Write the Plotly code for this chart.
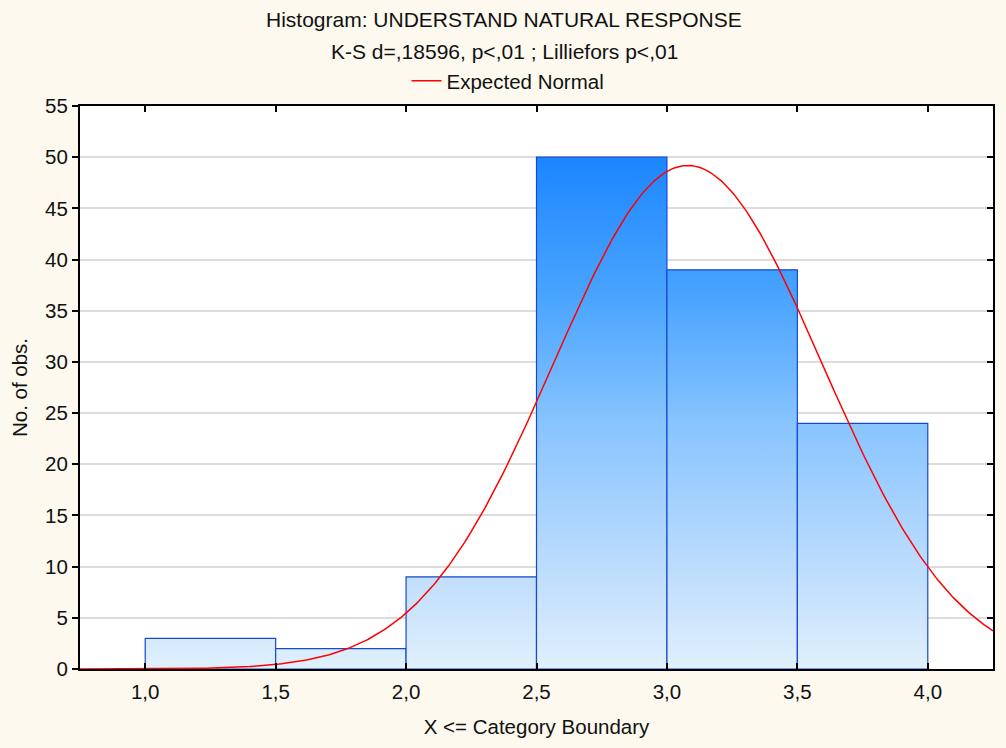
import numpy as np
import plotly.graph_objects as go

# Histogram bins (category boundaries) and observed counts
bin_lower = [1.0, 1.5, 2.0, 2.5, 3.0, 3.5]
bin_upper = [1.5, 2.0, 2.5, 3.0, 3.5, 4.0]
counts = [3, 2, 9, 50, 39, 24]

# Parameters of the expected normal curve
normal_mean = 3.08
normal_sd = 0.515
bin_width = 0.5

x_ticks = [1.0, 1.5, 2.0, 2.5, 3.0, 3.5, 4.0]
y_ticks = list(range(0, 56, 5))
x_range = [0.75, 4.25]
y_range = [0, 55]

title_line1 = "Histogram: UNDERSTAND NATURAL RESPONSE"
title_line2 = "K-S d=,18596, p<,01 ; Lilliefors p<,01"

FONT = "Liberation Sans, Arial, sans-serif"
BG = "#FDF9EF"
W, H = 1006, 748
ML, MR, MT, MB = 80, 13, 106, 79
PW, PH = W - ML - MR, H - MT - MB


def paper_x(px):
    return (px - ML) / PW


def paper_y(py):
    return 1 + (MT - py) / PH


gradient = dict(
    type="vertical",
    start=0,
    stop=50,
    colorscale=[
        [0.0, "rgb(224,240,253)"],
        [0.18, "rgb(192,222,253)"],
        [0.48, "rgb(136,196,255)"],
        [0.72, "rgb(75,165,255)"],
        [1.0, "rgb(28,134,255)"],
    ],
)

fig = go.Figure()

# Histogram bars as filled rectangles with a vertical gradient
for lo, hi, c in zip(bin_lower, bin_upper, counts):
    fig.add_trace(go.Scatter(
        x=[lo, lo, hi, hi, lo],
        y=[0, c, c, 0, 0],
        mode="lines",
        fill="toself",
        fillgradient=gradient,
        line=dict(color="#1549D0", width=1.2),
        showlegend=False,
        hoverinfo="skip",
    ))

# Expected normal curve scaled to counts per bin
n_total = sum(counts)
xs = np.linspace(x_range[0], x_range[1], 400)
ys = n_total * bin_width / (normal_sd * np.sqrt(2 * np.pi)) * np.exp(-0.5 * ((xs - normal_mean) / normal_sd) ** 2)
fig.add_trace(go.Scatter(
    x=xs, y=ys, mode="lines",
    line=dict(color="#FF0000", width=1.5),
    name="Expected Normal",
))

# Helper trace for the mirrored right-hand axis
fig.add_trace(go.Scatter(
    x=[x_range[0]], y=[0], yaxis="y2", mode="markers",
    marker=dict(opacity=0), showlegend=False, hoverinfo="skip",
))

fig.update_layout(
    width=W, height=H,
    margin=dict(l=ML, r=MR, t=MT, b=MB, autoexpand=False),
    paper_bgcolor=BG,
    plot_bgcolor="white",
    separators=", ",
    font=dict(family=FONT, size=20, color="#111111"),
    showlegend=True,
    legend=dict(
        orientation="h",
        x=paper_x(508), xanchor="center",
        y=paper_y(81), yanchor="middle",
        bgcolor="rgba(0,0,0,0)",
        font=dict(size=20.5),
        itemwidth=30,
    ),
    xaxis=dict(
        range=x_range,
        tickvals=x_ticks,
        tickformat=".1f",
        ticks="inside", ticklen=6, tickcolor="black", tickwidth=1.5,
        showline=True, linecolor="black", linewidth=2, mirror="ticks",
        showgrid=False, zeroline=False,
        ticklabelstandoff=3,
        tickfont=dict(size=20.5),
        title=dict(text="X <= Category Boundary", standoff=18, font=dict(size=20.5)),
    ),
    yaxis=dict(
        range=y_range,
        tickvals=y_ticks,
        ticks="outside", ticklen=6, tickcolor="black", tickwidth=1.5,
        showline=True, linecolor="black", linewidth=2, mirror=True,
        showgrid=True, gridcolor="#DCDCDC", gridwidth=2,
        zeroline=False,
        tickfont=dict(size=20.5),
        title=dict(text="No. of obs.", standoff=12, font=dict(size=20.5)),
    ),
    yaxis2=dict(
        range=y_range,
        tickvals=y_ticks,
        overlaying="y", side="right",
        ticks="inside", ticklen=6, tickcolor="black", tickwidth=1.5,
        showticklabels=False, showgrid=False, zeroline=False, showline=False,
    ),
    annotations=[
        dict(text=title_line1, xref="paper", yref="paper",
             x=paper_x(504), y=paper_y(20),
             xanchor="center", yanchor="middle", showarrow=False,
             font=dict(size=21)),
        dict(text=title_line2, xref="paper", yref="paper",
             x=paper_x(504), y=paper_y(52),
             xanchor="center", yanchor="middle", showarrow=False,
             font=dict(size=21)),
    ],
)

fig.write_html("out.html")
